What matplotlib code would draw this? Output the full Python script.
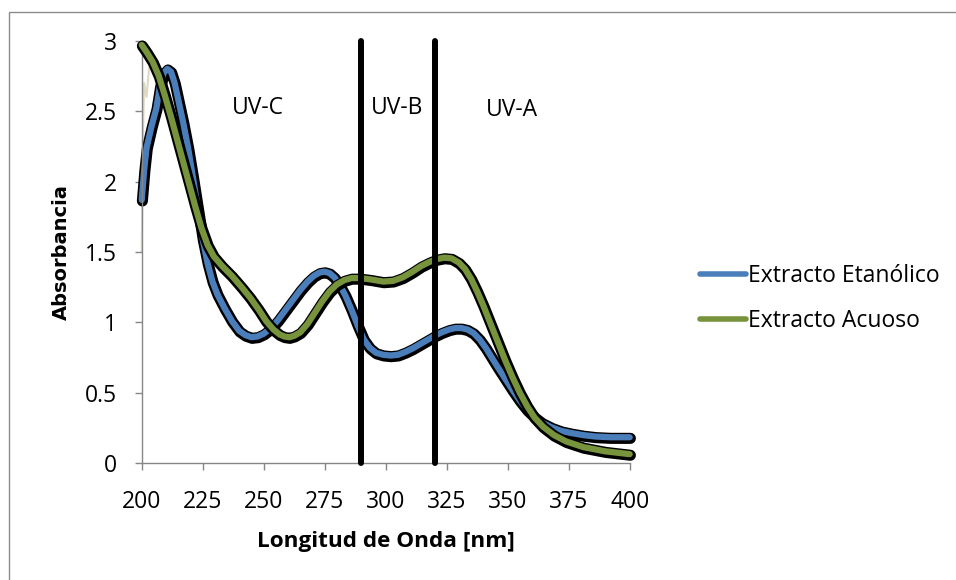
import matplotlib
matplotlib.use("Agg")
import matplotlib.pyplot as plt
import matplotlib.patheffects as pe
from matplotlib.patches import Rectangle

plt.rcParams['font.family'] = ['Open Sans', 'DejaVu Sans']

nm_etanol = [200, 201, 202, 204, 206, 207.5, 209, 210.5, 212, 213.5, 215, 217, 219, 221, 223,
             225, 227, 229, 231, 234, 237, 240, 242.5, 245, 247.5, 250, 253, 256, 259,
             262, 265, 268, 270.5, 273, 275, 277, 279, 281, 283.5, 286, 288.5, 291, 293.5,
             296, 299, 302, 305, 308, 311, 314, 317, 320, 323, 326, 328.5, 331, 333.5,
             336, 338.5, 341, 343.5, 346, 349, 352, 355, 358, 361, 364, 368, 372, 376,
             381, 386, 392, 400]
abs_etanol = [1.87, 2.08, 2.24, 2.39, 2.52, 2.68, 2.77, 2.80, 2.78, 2.70, 2.58, 2.42, 2.24, 2.03, 1.81,
              1.59, 1.42, 1.29, 1.20, 1.10, 1.01, 0.94, 0.91, 0.895, 0.90, 0.92, 0.96, 1.02, 1.09,
              1.16, 1.23, 1.29, 1.33, 1.355, 1.36, 1.35, 1.32, 1.27, 1.19, 1.09, 0.98, 0.88, 0.82,
              0.785, 0.77, 0.765, 0.77, 0.79, 0.815, 0.845, 0.875, 0.905, 0.93, 0.95, 0.96, 0.96, 0.95,
              0.925, 0.88, 0.82, 0.75, 0.68, 0.60, 0.52, 0.445, 0.38, 0.33, 0.29, 0.255, 0.23, 0.215,
              0.20, 0.19, 0.185, 0.185]

nm_acuoso = [200, 202, 204.5, 207, 209.5, 212, 214.5, 217, 219.5, 222, 224.5, 227, 229.5, 233,
             237, 241, 244.5, 248, 251, 254, 256.5, 258.5, 260.5, 262.5, 265, 268, 271, 274,
             277, 280, 283, 286, 289.5, 294, 299, 303, 307, 311, 314.5, 318, 321, 324, 327,
             330, 332.5, 335, 337.5, 340, 343, 346, 349, 352, 355, 358, 361, 364.5, 369,
             374, 381, 390, 400]
abs_acuoso = [2.97, 2.92, 2.85, 2.75, 2.61, 2.46, 2.30, 2.14, 1.98, 1.82, 1.67, 1.55, 1.47, 1.40,
              1.33, 1.25, 1.175, 1.09, 1.01, 0.95, 0.915, 0.90, 0.895, 0.905, 0.93, 0.99, 1.07, 1.15,
              1.22, 1.27, 1.30, 1.315, 1.315, 1.305, 1.29, 1.295, 1.32, 1.36, 1.40, 1.43, 1.45, 1.46, 1.455,
              1.425, 1.38, 1.31, 1.22, 1.12, 0.99, 0.86, 0.73, 0.61, 0.50, 0.405, 0.325, 0.26, 0.20,
              0.155, 0.115, 0.085, 0.065]

# tramo ruidoso del blanco al inicio del barrido
nm_ruido = [200, 200.5, 201, 202, 203, 204, 206, 208]
abs_ruido = [1.5, 2.3, 2.7, 2.6, 2.8, 2.9, 2.85, 2.8]

limites_uv = [290, 320]
zonas = ["UV-C", "UV-B", "UV-A"]
zonas_x = [247.5, 304.6, 351.8]
zonas_y = [2.52, 2.52, 2.51]

xticks = [200, 225, 250, 275, 300, 325, 350, 375, 400]
yticks = [0, 0.5, 1, 1.5, 2, 2.5, 3]
ytick_labels = ["0", "0.5", "1", "1.5", "2", "2.5", "3"]

W, H = 956, 580
fig = plt.figure(figsize=(W / 100, H / 100), dpi=100)
ax = fig.add_axes([141.7 / W, 1 - 463.3 / H, 488 / W, 422.6 / H])

# marco del area del grafico
fig.patches.append(Rectangle((9 / W, -0.1), 1.1, 1.1 - 12 / H, transform=fig.transFigure,
                             fill=False, edgecolor="#8c8c8c", linewidth=1.0))

sombra = [pe.Stroke(linewidth=8, foreground="black", offset=(0.5, -0.8)), pe.Normal()]

ax.plot(nm_ruido, abs_ruido, color="#ddd9c3", lw=1.5, zorder=1, clip_on=False)
ax.plot(nm_etanol, abs_etanol, color="#4a7ebb", lw=4.5, solid_capstyle="round",
        solid_joinstyle="round", path_effects=sombra, label="Extracto Etanólico",
        zorder=2, clip_on=False)
ax.plot(nm_acuoso, abs_acuoso, color="#77933c", lw=4.5, solid_capstyle="round",
        solid_joinstyle="round", path_effects=sombra, label="Extracto Acuoso",
        zorder=3, clip_on=False)

for x in limites_uv:
    ax.plot([x, x], [0, 3], color="black", lw=4.3, solid_capstyle="round",
            zorder=4, clip_on=False)

for t, x, y in zip(zonas, zonas_x, zonas_y):
    ax.text(x, y, t, fontsize=16.5, ha="center", va="center")

ax.set_xlim(200, 400)
ax.set_ylim(0, 3)
ax.set_xticks(xticks)
ax.set_yticks(yticks)
ax.set_yticklabels(ytick_labels)

for s in ["top", "right"]:
    ax.spines[s].set_visible(False)
for s in ["left", "bottom"]:
    ax.spines[s].set_color("#868686")
    ax.spines[s].set_linewidth(1.0)

ax.tick_params(axis="both", direction="out", length=5, width=1, color="#868686",
               labelsize=16.5)
ax.tick_params(axis="y", pad=13)
ax.tick_params(axis="x", pad=14)

ax.set_xlabel("Longitud de Onda [nm]", fontsize=16.2, fontweight="bold")
ax.xaxis.set_label_coords(0.5, (463.3 - 541) / 422.6)
ax.xaxis.label.set_va("center")
ax.set_ylabel("Absorbancia", fontsize=14, fontweight="bold", family="DejaVu Sans")
ax.yaxis.set_label_coords((61 - 141.7) / 488, 0.5)
ax.yaxis.label.set_va("center")

leg = ax.legend(loc="center left", bbox_to_anchor=(700 / W, 1 - 298.5 / H),
                bbox_transform=fig.transFigure, frameon=False, fontsize=16.5,
                borderpad=0, borderaxespad=0, handlelength=2.0, handletextpad=0.1,
                labelspacing=0.95)
for h in leg.get_lines():
    h.set_path_effects([])
    h.set_linewidth(4)

fig.savefig("out.png", dpi=100)
